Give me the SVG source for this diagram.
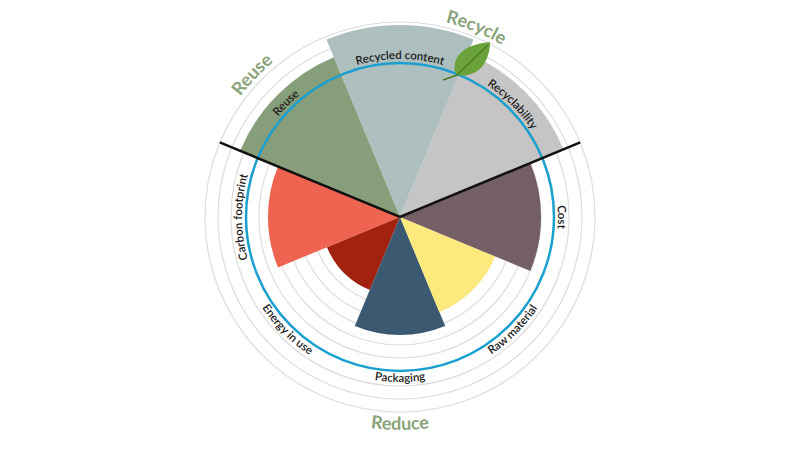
<svg xmlns="http://www.w3.org/2000/svg" width="800" height="450" viewBox="0 0 800 450">
<style>
.ring{fill:none;stroke:#dcdcdc;stroke-width:1.2}
.lbl{font-family:Lato,"Liberation Sans",sans-serif;font-size:11.5px;fill:#1a1a1a;font-weight:600}
.big{font-family:Lato,"Liberation Sans",sans-serif;font-size:18px;fill:#8aa37a;font-weight:bold}
</style>
<defs>
<path id="cw158" d="M400 375 A158 158 0 1 1 400 59 A158 158 0 1 1 400 375"/>
<path id="ccw165" d="M400 52 A165 165 0 1 0 400 382 A165 165 0 1 0 400 52"/>
<path id="cw200" d="M400 417 A200 200 0 1 1 400 17 A200 200 0 1 1 400 417"/>
<path id="ccw213" d="M400 4 A213 213 0 1 0 400 430 A213 213 0 1 0 400 4"/>
</defs>
<rect width="800" height="450" fill="#fff"/>
<g id="rings">
<circle class="ring" cx="400" cy="217" r="195"/><circle class="ring" cx="400" cy="217" r="182"/><circle class="ring" cx="400" cy="217" r="169"/><circle class="ring" cx="400" cy="217" r="141"/><circle class="ring" cx="400" cy="217" r="128"/><circle class="ring" cx="400" cy="217" r="115"/><circle class="ring" cx="400" cy="217" r="102"/><circle class="ring" cx="400" cy="217" r="89"/><circle class="ring" cx="400" cy="217" r="76"/>
</g>
<g id="recyclability"><path d="M400 217 L563.5 149.3 A177 177 0 0 0 467.7 53.5 Z" fill="#c5c5c5"/></g>
<g id="recycled-content"><path d="M400 217 L473.5 39.6 A192 192 0 0 0 326.5 39.6 Z" fill="#adbfbe"/></g>
<g id="reuse"><path d="M400 217 L333.8 57.2 A173 173 0 0 0 240.2 150.8 Z" fill="#869e7a"/></g>
<g id="carbon-footprint"><path d="M400 217 L278 166.5 A132 132 0 0 0 278 267.5 Z" fill="#ee6450"/></g>
<g id="energy-in-use"><path d="M400 217 L327 247.2 A79 79 0 0 0 369.8 290 Z" fill="#a3210f"/></g>
<g id="packaging"><path d="M400 217 L354.8 326 A118 118 0 0 0 445.2 326 Z" fill="#3b5a72"/></g>
<g id="raw-material"><path d="M400 217 L439.4 312.2 A103 103 0 0 0 495.2 256.4 Z" fill="#fde97e"/></g>
<g id="cost"><path d="M400 217 L530.3 271 A141 141 0 0 0 530.3 163 Z" fill="#735f65"/></g>
<g id="connectors">
<circle cx="400" cy="217" r="154" fill="none" stroke="#1a9fce" stroke-width="2.5"/>
<path d="M219.8 142.4 L400 217 L580.2 142.4" fill="none" stroke="#111" stroke-width="2.5"/>
</g>
<g id="leaf">
<path d="M490 42 C470 44 452 52 455 72 C460 80 478 74 484 64 C489 56 490 48 490 42 Z" fill="#6aa33a"/>
<path d="M488 45 L457 75 L443 80" fill="none" stroke="#4d7d25" stroke-width="1.5"/>
</g>
<g id="labels">
<text class="lbl" text-anchor="middle"><textPath href="#cw158" startOffset="25%">Carbon footprint</textPath></text>
<text class="lbl" text-anchor="middle"><textPath href="#cw158" startOffset="37.5%">Reuse</textPath></text>
<text class="lbl" text-anchor="middle"><textPath href="#cw158" startOffset="50%">Recycled content</textPath></text>
<text class="lbl" text-anchor="middle"><textPath href="#cw158" startOffset="62.5%">Recyclability</textPath></text>
<text class="lbl" text-anchor="middle"><textPath href="#cw158" startOffset="75%">Cost</textPath></text>
<text class="lbl" text-anchor="middle"><textPath href="#ccw165" startOffset="37.5%">Energy in use</textPath></text>
<text class="lbl" text-anchor="middle"><textPath href="#ccw165" startOffset="50%">Packaging</textPath></text>
<text class="lbl" text-anchor="middle"><textPath href="#ccw165" startOffset="62.5%">Raw material</textPath></text>
<text class="big" text-anchor="middle"><textPath href="#cw200" startOffset="37.2%">Reuse</textPath></text>
<text class="big" text-anchor="middle"><textPath href="#cw200" startOffset="56.1%">Recycle</textPath></text>
<text class="big" text-anchor="middle"><textPath href="#ccw213" startOffset="50%">Reduce</textPath></text>
</g>
</svg>
